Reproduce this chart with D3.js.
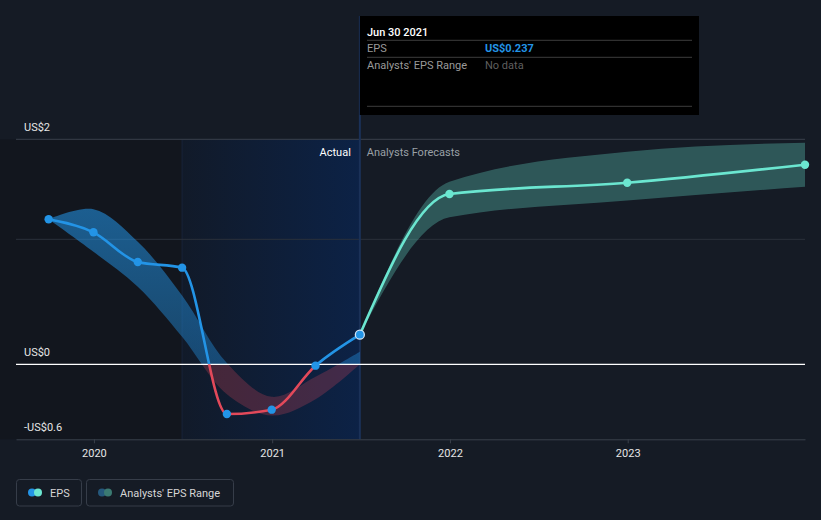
<!DOCTYPE html>
<html><head><meta charset="utf-8">
<script src="https://cdn.jsdelivr.net/npm/d3@7"></script>
<style>
html,body{margin:0;padding:0;background:#151b25;}
svg{display:block;font-family:Roboto,"Open Sans",sans-serif;}
</style></head><body>
<svg id="chart" width="821" height="520"></svg>
<script>
// ---- data ----
const epsDates = ["2019-09-30","2019-12-31","2020-03-31","2020-06-30","2020-09-30","2020-12-31","2021-03-31","2021-06-30"];
const epsValues = [1.16, 1.056, 0.818, 0.773, -0.398, -0.363, -0.011, 0.237];
const pastRangeLow  = [1.16, 0.90, 0.62, 0.22, -0.24, -0.41, -0.28, 0.0];
const pastRangeHigh = [1.16, 1.24, 0.98, 0.55, 0.01, -0.26, -0.10, 0.10];
const forecastDates = ["2021-06-30","2021-12-31","2022-12-31","2023-12-31"];
const forecastValues = [0.237, 1.362, 1.453, 1.597];
const forecastLow  = [0.237, 1.176, 1.31, 1.42];
const forecastHigh = [0.237, 1.46, 1.70, 1.773];
const yearTicks = ["2020-01-01","2021-01-01","2022-01-01","2023-01-01"];
const yLabelValues = [1.8, 0, -0.6];
const yLabelTexts = ["US$2","US$0","-US$0.6"];
const extraGrid = [1.0];
const domainDates = ["2019-07-25","2023-12-31"];
const actualStart = "2020-06-30";
const tooltipTitle = "Jun 30 2021";
const tooltipRows = [["EPS","US$0.237"],["Analysts' EPS Range","No data"]];
const legendItems = ["EPS","Analysts' EPS Range"];

// ---- setup ----
const parse = d3.utcParse("%Y-%m-%d");
const svg = d3.select("#chart");
const W = 821, H = 520;
const x = d3.scaleUtc().domain(domainDates.map(parse)).range([16, 805]);
const y = d3.scaleLinear().domain([-0.6, 1.8]).range([439.3, 139.3]);
const y0 = y(0);

const eps = epsDates.map((d,i)=>({date:parse(d), v:epsValues[i], lo:pastRangeLow[i], hi:pastRangeHigh[i]}));
const fc = forecastDates.map((d,i)=>({date:parse(d), v:forecastValues[i], lo:forecastLow[i], hi:forecastHigh[i]}));
const lastDate = parse(epsDates[epsDates.length-1]);
const xNow = x(lastDate);
const xAct = x(parse(actualStart));

const defs = svg.append("defs");
const hg = defs.append("linearGradient").attr("id","actGrad").attr("x1","0").attr("x2","1").attr("y1","0").attr("y2","0");
hg.append("stop").attr("offset","0").attr("stop-color","#111a29");
hg.append("stop").attr("offset","1").attr("stop-color","#0c2246");
const bg = defs.append("linearGradient").attr("id","bandGrad").attr("gradientUnits","userSpaceOnUse")
  .attr("x1",0).attr("x2",0).attr("y1",y(1.3)).attr("y2",y(0));
bg.append("stop").attr("offset","0").attr("stop-color","#2394e6").attr("stop-opacity",0.58);
bg.append("stop").attr("offset","1").attr("stop-color","#2394e6").attr("stop-opacity",0.38);
defs.append("clipPath").attr("id","above").append("rect").attr("x",0).attr("y",0).attr("width",W).attr("height",y0);
defs.append("clipPath").attr("id","below").append("rect").attr("x",0).attr("y",y0).attr("width",W).attr("height",H-y0);

// background
svg.append("rect").attr("width",W).attr("height",H).attr("fill","#151b25");
svg.append("rect").attr("x",0).attr("y",y(1.8)).attr("width",xAct).attr("height",y(-0.6)-y(1.8)).attr("fill","#12161e");
svg.append("rect").attr("x",xAct).attr("y",y(1.8)).attr("width",xNow-xAct).attr("height",y(-0.6)-y(1.8)).attr("fill","url(#actGrad)");
svg.append("line").attr("x1",xAct).attr("x2",xAct).attr("y1",y(1.8)).attr("y2",y(-0.6)).attr("stroke","#17243a").attr("stroke-width",1);

// grid
svg.append("line").attr("x1",16).attr("x2",805).attr("y1",y(1.8)).attr("y2",y(1.8)).attr("stroke","#3a404b").attr("stroke-width",1);
svg.selectAll(".grid").data(extraGrid).join("line").attr("x1",16).attr("x2",805)
  .attr("y1",d=>y(d)).attr("y2",d=>y(d)).attr("stroke","#2b313b").attr("stroke-width",1);

// hover line
svg.append("line").attr("x1",xNow).attr("x2",xNow).attr("y1",16).attr("y2",y(-0.6)).attr("stroke","#1a3158").attr("stroke-width",2);

// bands
const pastArea = d3.area().x(d=>x(d.date)).y0(d=>y(d.lo)).y1(d=>y(d.hi)).curve(d3.curveCatmullRom.alpha(0.5));
const area = d3.area().x(d=>x(d.date)).y0(d=>y(d.lo)).y1(d=>y(d.hi)).curve(d3.curveMonotoneX);
svg.append("path").datum(eps).attr("d",pastArea).attr("fill","url(#bandGrad)").attr("clip-path","url(#above)");
svg.append("path").datum(eps).attr("d",pastArea).attr("fill","#e2495a").attr("fill-opacity",0.25).attr("clip-path","url(#below)");
svg.append("path").datum(fc).attr("d",area).attr("fill","#6be6d0").attr("fill-opacity",0.3);

// zero line
svg.append("line").attr("x1",16).attr("x2",805).attr("y1",y0).attr("y2",y0).attr("stroke","#ffffff").attr("stroke-width",1.3);

// axis
const axis = d3.axisBottom(x).tickValues(yearTicks.map(parse)).tickFormat(d3.utcFormat("%Y")).tickSize(4).tickSizeOuter(0).tickPadding(6);
const gAx = svg.append("g").attr("transform",`translate(0,${y(-0.6)})`).call(axis);
gAx.select(".domain").attr("stroke","#3a404b").attr("stroke-width",1);
gAx.selectAll(".tick line").attr("stroke","#3a404b");
gAx.selectAll(".tick text").attr("fill","#e6e6e6").attr("font-size",11).attr("font-family","Roboto");

// lines
const line = d3.line().x(d=>x(d.date)).y(d=>y(d.v)).curve(d3.curveMonotoneX);
svg.append("path").datum(eps).attr("d",line).attr("fill","none").attr("stroke","#2394e6").attr("stroke-width",2.6).attr("clip-path","url(#above)");
svg.append("path").datum(eps).attr("d",line).attr("fill","none").attr("stroke","#e2495a").attr("stroke-width",2.6).attr("clip-path","url(#below)");
svg.append("path").datum(fc).attr("d",line).attr("fill","none").attr("stroke","#6be6d0").attr("stroke-width",2.6);

// points
svg.selectAll(".ep").data(eps.slice(0,-1)).join("circle").attr("cx",d=>x(d.date)).attr("cy",d=>y(d.v)).attr("r",4.2).attr("fill","#2394e6");
svg.selectAll(".fp").data(fc.slice(1)).join("circle").attr("cx",d=>x(d.date)).attr("cy",d=>y(d.v)).attr("r",4.2).attr("fill","#6be6d0");
const last = eps[eps.length-1];
svg.append("circle").attr("cx",x(last.date)).attr("cy",y(last.v)).attr("r",4.5).attr("fill","#2394e6").attr("stroke","#cfe3f7").attr("stroke-width",1.3);

// y labels
svg.selectAll(".yl").data(yLabelValues).join("text").attr("x",24).attr("y",d=>y(d)-8)
  .attr("fill","#e6e6e6").attr("font-size",11).text((d,i)=>yLabelTexts[i]);

// Actual / forecast labels
svg.append("text").attr("x",xNow-9).attr("y",155.5).attr("text-anchor","end").attr("fill","#ffffff").attr("font-size",11).text("Actual");
svg.append("text").attr("x",xNow+7).attr("y",155.5).attr("fill","#9aa0a6").attr("font-size",11).text("Analysts Forecasts");

// tooltip
const tt = svg.append("g");
tt.append("rect").attr("x",xNow).attr("y",16).attr("width",699-xNow).attr("height",99).attr("fill","#000000");
tt.append("text").attr("x",367).attr("y",35.5).attr("fill","#ffffff").attr("font-size",11).attr("font-weight",500).text(tooltipTitle);
[40.3,57.3,106.3].forEach(yy=>tt.append("line").attr("x1",367).attr("x2",692).attr("y1",yy).attr("y2",yy).attr("stroke","#3c3c3c").attr("stroke-width",1));
tooltipRows.forEach((r,i)=>{
  const yy = 52 + i*17;
  tt.append("text").attr("x",367).attr("y",yy).attr("fill","#9a9a9a").attr("font-size",11).text(r[0]);
  tt.append("text").attr("x",485).attr("y",yy).attr("fill", i===0 ? "#2394e6" : "#5f5f5f").attr("font-size",11).attr("font-weight", i===0 ? 700 : 400).text(r[1]);
});

// legend
const lg = svg.append("g");
const boxes = [{x:16.5,w:65},{x:86.5,w:147}];
const iconCols = [["#2394e6","#6be6d0"],["#25587c","#3b7a72"]];
legendItems.forEach((t,i)=>{
  const b = boxes[i];
  lg.append("rect").attr("x",b.x).attr("y",479.5).attr("width",b.w).attr("height",26.5).attr("rx",3).attr("fill","none").attr("stroke","#363d49").attr("stroke-width",1);
  lg.append("circle").attr("cx",b.x+15.5).attr("cy",492.5).attr("r",4).attr("fill",iconCols[i][0]);
  lg.append("circle").attr("cx",b.x+21.5).attr("cy",492.5).attr("r",4).attr("fill",iconCols[i][1]);
  lg.append("text").attr("x",b.x+33.5).attr("y",496.5).attr("fill","#d6d6d6").attr("font-size",11).text(t);
});
</script>
</body></html>
